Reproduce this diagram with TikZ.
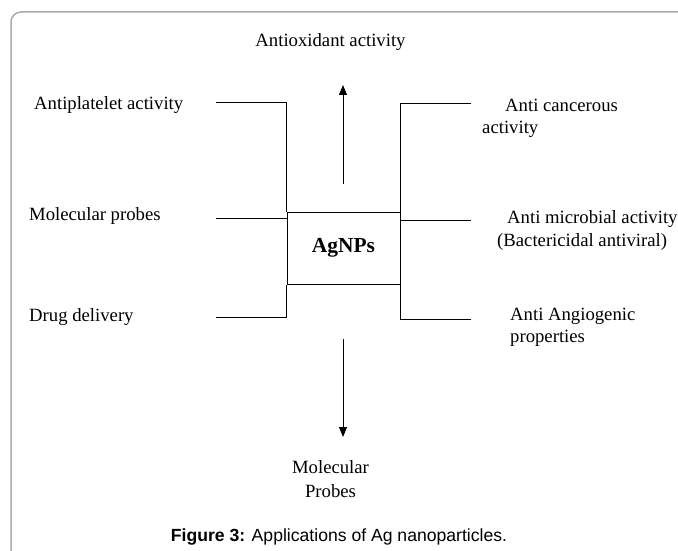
\documentclass[tikz,border=0pt]{standalone}
\usepackage{fontspec}
\setmainfont{Liberation Serif}
\newfontfamily\capfont{Liberation Sans}
\usetikzlibrary{arrows.meta}
\begin{document}
\begin{tikzpicture}[x=1pt,y=-1pt,
  lbl/.style={font=\fontsize{18.7}{22}\selectfont, inner sep=0pt, anchor=base west},
  clbl/.style={font=\fontsize{18.7}{22}\selectfont, inner sep=0pt, anchor=base},
  conn/.style={draw=black, line width=1pt},
  arr/.style={conn, -{Triangle[length=10pt,width=8pt]}},
  frame/.style={draw=black!33, line width=1.5pt, rounded corners=10pt},
  centerbox/.style={draw=black, line width=1pt, minimum width=113pt, minimum height=72pt, inner sep=0pt,
    font=\bfseries\fontsize{21.4}{24}\selectfont}
]
\useasboundingbox (0,0) rectangle (678,551);
\draw[frame] (679,12) -- (11,12) -- (11,552);

\node[centerbox] (ag) at (343.5,248) {AgNPs};

% connector ends
\coordinate (l1) at (216,103);
\coordinate (l2) at (216,218);
\coordinate (l3) at (216,317);
\coordinate (r1) at (471,104);
\coordinate (r2) at (471,220);
\coordinate (r3) at (471,319);
\coordinate (ua) at (343,184);
\coordinate (ub) at (343,85);
\coordinate (da) at (343,339);
\coordinate (db) at (343,437);

\draw[conn] (l1) -| (ag.north west);
\draw[conn] (l2) -- (l2 -| ag.west);
\draw[conn] (l3) -| (ag.south west);
\draw[conn] (r1) -| (ag.north east);
\draw[conn] (r2) -- (r2 -| ag.east);
\draw[conn] (r3) -| (ag.south east);
\draw[arr] (ua) -- (ub);
\draw[arr] (da) -- (db);

% labels
\node[clbl] (tox) at (330.5,47) {Antioxidant activity};
\node[lbl] (tap) at (34,110) {Antiplatelet activity};
\node[lbl] (tmp) at (29,220) {Molecular probes};
\node[lbl] (tdd) at (29,321) {Drug delivery};
\node[lbl] (tac1) at (505,111) {Anti cancerous};
\node[lbl] (tac2) at (482,133) {activity};
\node[lbl] (tam1) at (507,223) {Anti microbial activity};
\node[lbl] (tam2) at (497,246) {(Bactericidal antiviral)};
\node[lbl] (tag1) at (510,320) {Anti Angiogenic};
\node[lbl] (tag2) at (510,342) {properties};
\node[clbl] (tmo1) at (330.5,473) {Molecular};
\node[clbl] (tmo2) at (330.5,497) {Probes};
\node[font=\capfont\fontsize{17.6}{20}\selectfont, inner sep=0pt, anchor=base] (cap) at (339,541)
  {\textbf{Figure 3:} Applications of Ag nanoparticles.};
\end{tikzpicture}
\end{document}
